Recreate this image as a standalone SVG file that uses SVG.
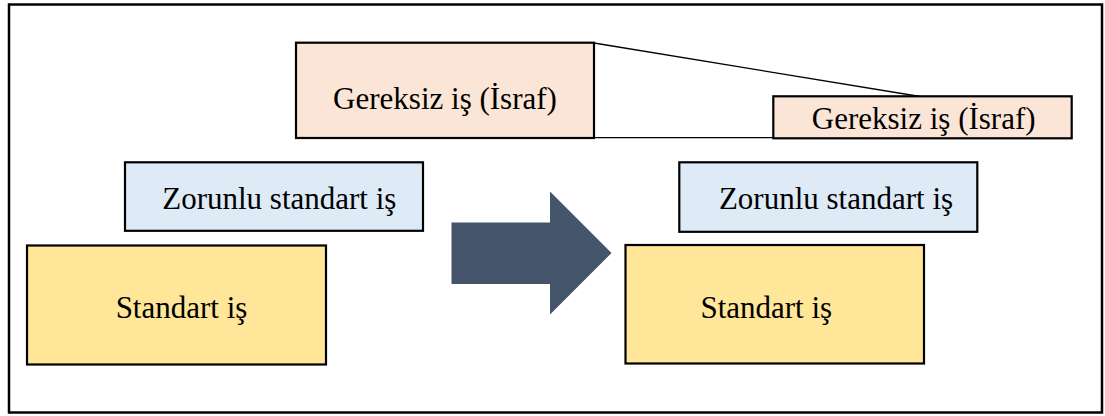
<svg xmlns="http://www.w3.org/2000/svg" width="1105" height="416" viewBox="0 0 1105 416">
<style>
.box{stroke:#000;stroke-width:2.2}
.waste{fill:#FBE5D6}
.req{fill:#DEEBF7}
.std{fill:#FFE699}
.lbl{font-size:31px;fill:#000;text-anchor:middle}
.conn{stroke:#000;stroke-width:1.3;fill:none}
</style>
<rect x="0" y="0" width="1105" height="416" fill="#fff"/>
<rect x="9" y="4.5" width="1093" height="408" fill="none" stroke="#000" stroke-width="2.5"/>
<g id="connectors">
<line class="conn" x1="594" y1="43" x2="920" y2="96.5"/>
<line class="conn" x1="594" y1="137.7" x2="773" y2="137.7"/>
</g>
<g id="arrow">
<polygon points="451.5,222.5 550,222.5 550,191.5 611.5,253 550,314.5 550,284 451.5,284" fill="#44546A"/>
</g>
<g font-family="Liberation Serif, Tinos, Times New Roman, DejaVu Serif, serif">
<g id="waste-left">
<rect class="box waste" x="296" y="42.7" width="298" height="95.3"/>
<text class="lbl" x="445" y="109" font-family="Liberation Serif, Tinos, DejaVu Serif, serif">Gereksiz iş (İsraf)</text>
</g>
<g id="waste-right">
<rect class="box waste" x="773.3" y="96.3" width="298.4" height="42"/>
<text class="lbl" x="923.7" y="128.5" font-family="Liberation Serif, Tinos, DejaVu Serif, serif">Gereksiz iş (İsraf)</text>
</g>
<g id="required-left">
<rect class="box req" x="125" y="162.3" width="298" height="68.5"/>
<text class="lbl" x="279.3" y="209" font-family="Liberation Serif, Tinos, DejaVu Serif, serif">Zorunlu standart iş</text>
</g>
<g id="required-right">
<rect class="box req" x="679.3" y="162.3" width="298" height="69.5"/>
<text class="lbl" x="836" y="209" font-family="Liberation Serif, Tinos, DejaVu Serif, serif">Zorunlu standart iş</text>
</g>
<g id="standard-left">
<rect class="box std" x="27" y="245.5" width="299" height="119"/>
<text class="lbl" x="181.5" y="318" font-family="Liberation Serif, Tinos, DejaVu Serif, serif">Standart iş</text>
</g>
<g id="standard-right">
<rect class="box std" x="625.5" y="245" width="298.5" height="118.5"/>
<text class="lbl" x="766.3" y="318" font-family="Liberation Serif, Tinos, DejaVu Serif, serif">Standart iş</text>
</g>
</g>
</svg>
